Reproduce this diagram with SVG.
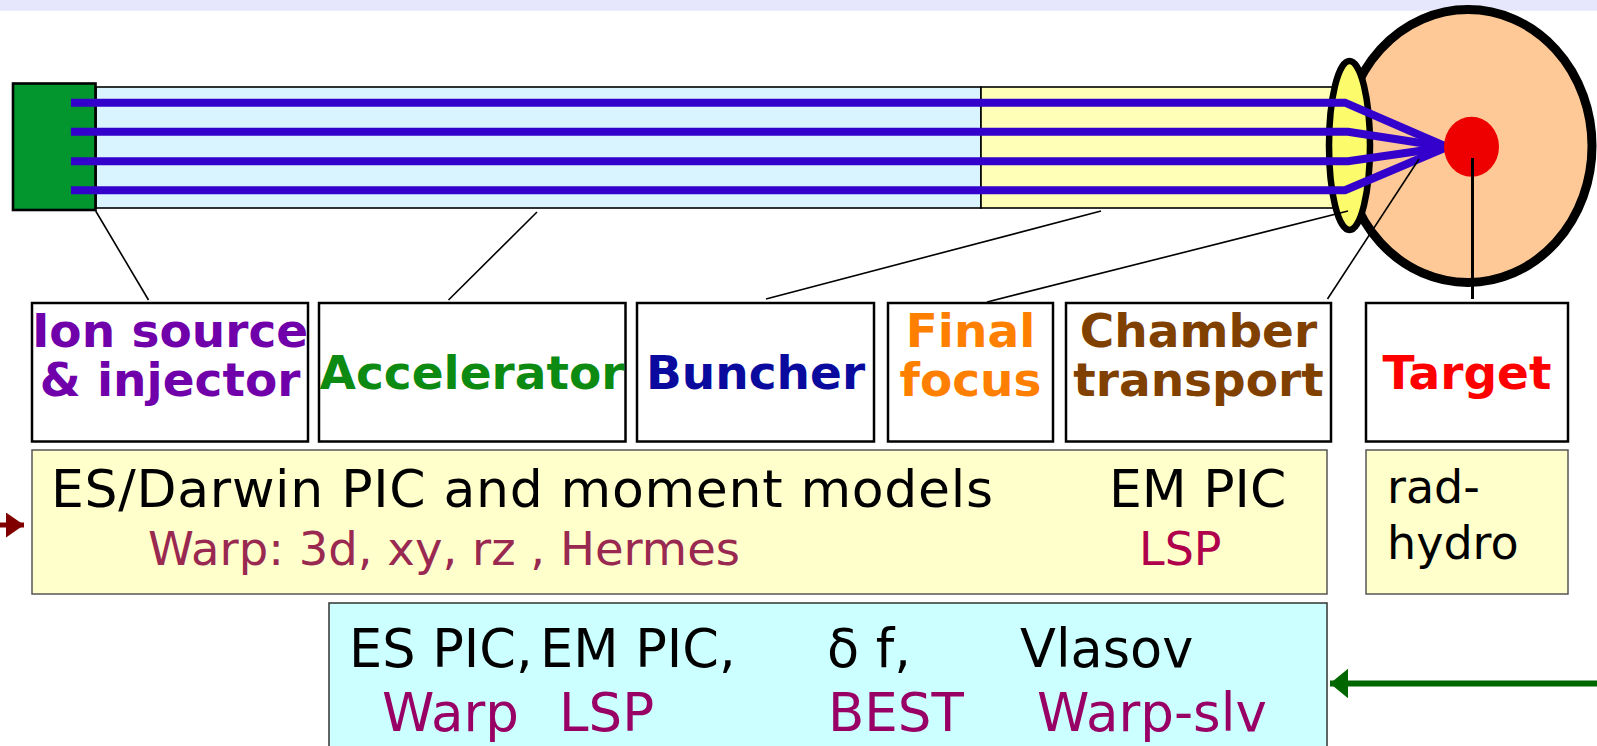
<svg xmlns="http://www.w3.org/2000/svg" width="1597" height="746" viewBox="0 0 1597 746">
  <style>
    .lbl { font-family: "DejaVu Sans", "Bitstream Vera Sans", sans-serif; font-weight: bold; font-size: 47px; text-anchor: middle; }
    .txt { font-family: "DejaVu Sans", "Bitstream Vera Sans", sans-serif; }
    .box { fill: #ffffff; stroke: #000000; stroke-width: 2.5; }
    .ptr { stroke: #000000; stroke-width: 1.6; fill: none; }
    .beam { stroke: #3300cc; stroke-width: 8; fill: none; stroke-linejoin: miter; }
  </style>
  <defs>
    <marker id="headRed" markerUnits="userSpaceOnUse" markerWidth="20" markerHeight="26" refX="18" refY="12.5" orient="auto">
      <path d="M0,0 L18,12.5 L0,25 Z" fill="#800000"/>
    </marker>
    <marker id="headGreen" markerUnits="userSpaceOnUse" markerWidth="20" markerHeight="30" refX="18" refY="14.7" orient="auto">
      <path d="M0,0 L18,14.7 L0,29.4 Z" fill="#006600"/>
    </marker>
  </defs>

  <rect x="0" y="0" width="1597" height="746" fill="#ffffff"/>
  <!-- header band -->
  <rect x="0" y="0" width="1597" height="10.7" fill="#e6e6fc"/>

  <!-- beamline drawing -->
  <g id="beamline">
    <ellipse id="chamber" cx="1468" cy="146" rx="124" ry="136.5" fill="#fec996" stroke="#000000" stroke-width="9"/>
    <rect x="96" y="87" width="885" height="121" fill="#d9f4fe" stroke="#000000" stroke-width="1.6"/>
    <rect x="981" y="87" width="352" height="121" fill="#ffffb8" stroke="#000000" stroke-width="1.6"/>
    <rect id="source" x="13" y="83.5" width="82.5" height="126.5" fill="#03962f" stroke="#000000" stroke-width="2.6"/>
    <ellipse id="lens" cx="1349.5" cy="145.5" rx="20.5" ry="84.5" fill="#fbfb6b" stroke="#000000" stroke-width="6.5"/>
    <polyline class="beam" points="71,102.7 1345,102.7 1447,147"/>
    <polyline class="beam" points="71,131.7 1348,131.7 1447,147"/>
    <polyline class="beam" points="71,161.3 1348,161.3 1447,147"/>
    <polyline class="beam" points="71,190.3 1345,190.3 1447,147"/>
    <ellipse id="pellet" cx="1471.5" cy="146.7" rx="27.5" ry="30" fill="#ee0000"/>
  </g>

  <!-- connectors -->
  <g id="connectors">
    <line class="ptr" x1="95.7" y1="211" x2="148.5" y2="300"/>
    <line class="ptr" x1="537" y1="212" x2="448.5" y2="300"/>
    <line class="ptr" x1="1101" y1="211" x2="766" y2="299"/>
    <line class="ptr" x1="1348" y1="211" x2="987" y2="302"/>
    <line class="ptr" x1="1419" y1="159" x2="1327.5" y2="299"/>
    <line x1="1472.5" y1="158" x2="1472.5" y2="299" stroke="#000000" stroke-width="3"/>
    <line x1="0" y1="525" x2="24" y2="525" stroke="#800000" stroke-width="5" marker-end="url(#headRed)"/>
    <line x1="1597" y1="683.5" x2="1330" y2="683.5" stroke="#006600" stroke-width="6" marker-end="url(#headGreen)"/>
  </g>

  <!-- stage labels -->
  <g id="ion-source">
    <rect class="box" x="32" y="303" width="276" height="138.5"/>
    <text class="lbl" fill="#6f00aa"><tspan x="170" y="347">Ion source</tspan><tspan x="170" y="396">&amp; injector</tspan></text>
  </g>
  <g id="accelerator">
    <rect class="box" x="319" y="303" width="306.5" height="138.5"/>
    <text class="lbl" x="472" y="389" fill="#0c8a12">Accelerator</text>
  </g>
  <g id="buncher">
    <rect class="box" x="637" y="303" width="237" height="138.5"/>
    <text class="lbl" x="755.5" y="389" fill="#0a0a9e">Buncher</text>
  </g>
  <g id="final-focus">
    <rect class="box" x="888" y="303" width="165" height="138.5"/>
    <text class="lbl" fill="#ff8000"><tspan x="970.5" y="347">Final</tspan><tspan x="970.5" y="396">focus</tspan></text>
  </g>
  <g id="chamber-transport">
    <rect class="box" x="1066" y="303" width="265" height="138.5"/>
    <text class="lbl" fill="#804000"><tspan x="1198.5" y="347">Chamber</tspan><tspan x="1198.5" y="396">transport</tspan></text>
  </g>
  <g id="target">
    <rect class="box" x="1366" y="303" width="202" height="138.5"/>
    <text class="lbl" x="1467" y="389" fill="#ff0000">Target</text>
  </g>

  <!-- code panels -->
  <g id="beam-codes">
    <rect x="32" y="450" width="1295" height="144" fill="#ffffcc" stroke="#555555" stroke-width="1.5"/>
    <text class="txt" x="51" y="507" font-size="52" fill="#000000" textLength="942" lengthAdjust="spacing">ES/Darwin PIC and moment models</text>
    <text class="txt" x="148" y="565" font-size="46.5" fill="#992950" textLength="592" lengthAdjust="spacing">Warp: 3d, xy, rz , Hermes</text>
    <text class="txt" x="1109" y="507" font-size="52" fill="#000000">EM PIC</text>
    <text class="txt" x="1139" y="565" font-size="46" fill="#b0004c">LSP</text>
  </g>
  <g id="target-codes">
    <rect x="1366" y="450" width="202" height="144" fill="#ffffcc" stroke="#555555" stroke-width="1.5"/>
    <text class="txt" font-size="46" fill="#000000"><tspan x="1387" y="503">rad-</tspan><tspan x="1387" y="559">hydro</tspan></text>
  </g>
  <g id="physics-codes">
    <rect x="329" y="603" width="998" height="160" fill="#ccffff" stroke="#333333" stroke-width="1.5"/>
    <g class="txt" font-size="52.5" fill="#000000">
      <text x="349" y="667">ES PIC,</text>
      <text x="540" y="667">EM PIC,</text>
      <text x="827" y="667">δ f,</text>
      <text x="1020" y="667">Vlasov</text>
    </g>
    <g class="txt" font-size="53" fill="#990066">
      <text x="382" y="731">Warp</text>
      <text x="559" y="731">LSP</text>
      <text x="828" y="731">BEST</text>
      <text x="1037" y="731">Warp-slv</text>
    </g>
  </g>
</svg>
